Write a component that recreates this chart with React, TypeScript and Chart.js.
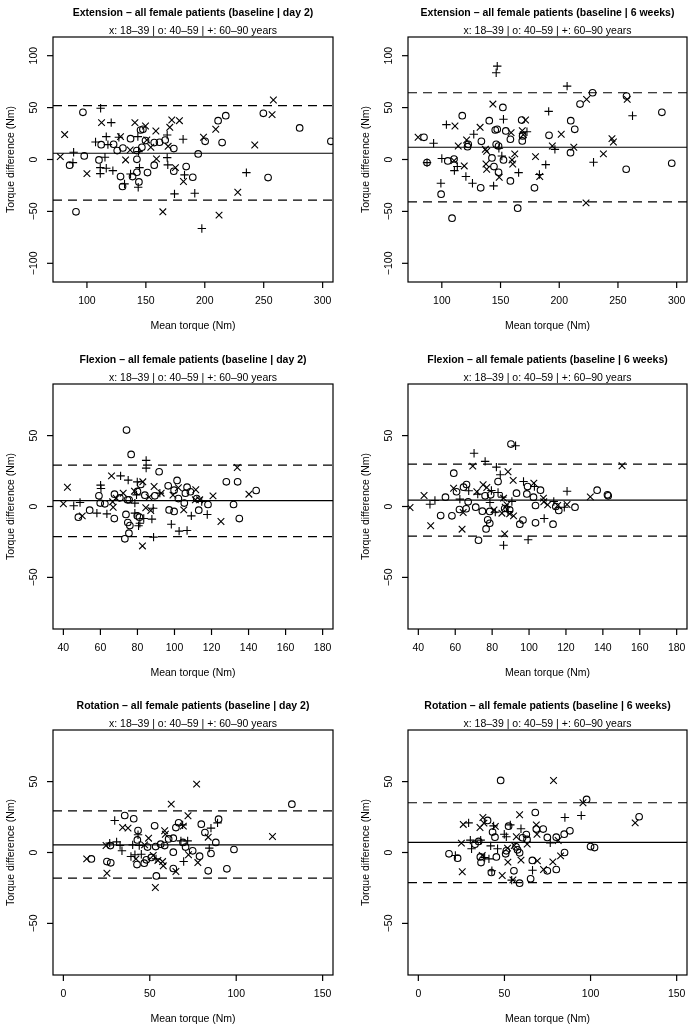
import React, { useEffect, useRef } from "react";
import { Chart, registerables } from "chart.js";

Chart.register(...registerables);

type P = [number, number];

// ---------- labels ----------
const SUBTITLE = "x: 18–39 | o: 40–59 | +: 60–90 years";
const X_TITLE = "Mean torque (Nm)";
const Y_TITLE = "Torque difference (Nm)";
const TITLES = [
  "Extension – all female patients (baseline | day 2)",
  "Extension – all female patients (baseline | 6 weeks)",
  "Flexion – all female patients (baseline | day 2)",
  "Flexion – all female patients (baseline | 6 weeks)",
  "Rotation – all female patients (baseline | day 2)",
  "Rotation – all female patients (baseline | 6 weeks)",
];

// ---------- tick labels ----------
const extXTicks = [100, 150, 200, 250, 300];
const flexXTicks = [40, 60, 80, 100, 120, 140, 160, 180];
const rotXTicks = [0, 50, 100, 150];
const extYTicks = [-100, -50, 0, 50, 100];
const smallYTicks = [-50, 0, 50];

// ---------- limits of agreement: [mean, upper, lower] ----------
const extD2Lines = [6, 51.8, -39.2];
const ext6wLines = [11.8, 64.3, -40.8];
const flexD2Lines = [4.2, 29.2, -21.2];
const flex6wLines = [4.5, 29.9, -20.9];
const rotD2Lines = [5.4, 29.4, -18.1];
const rot6wLines = [7.1, 35.1, -21.2];

// ---------- Extension, day 2 ----------
const extD2Young: P[] = [[258.2,57.3],[257.1,43.2],[112.4,35.5],[140.7,35.5],[149.7,32.3],[172,38],[178.5,37.4],[170.3,31],[209.3,29.1],[81.1,24],[158.5,27.5],[128.5,22],[198.9,21.4],[242.4,14],[150.8,18.8],[168.9,12.7],[136.7,9.2],[154.2,11.8],[77.4,2.8],[132.8,-0.4],[159,0.6],[175.1,-7.8],[100,-13.6],[181.9,-21.2],[228,-31.5],[164.4,-50.4],[212.1,-53.6]];
const extD2Mid: P[] = [[96.6,45.4],[249.7,44.5],[217.8,42.2],[211.3,37.4],[145.5,28.4],[147.5,29.1],[280.5,30.4],[137,20.1],[200.3,17.5],[214.7,16.3],[112.1,14.3],[122.6,14.7],[149.7,18.2],[157.1,16.3],[161.6,16.6],[166.4,18.8],[130.5,11.1],[125.7,8.6],[146.6,11.8],[173.7,10.5],[97.7,3.4],[194.4,5.4],[142.4,8.6],[110.2,-0.4],[142.4,0.2],[85.3,-5.5],[157.1,-5.5],[184.2,-6.8],[173.7,-11.3],[151.4,-12.6],[142.4,-12.3],[189.8,-17.1],[128.5,-16.4],[138.7,-16.4],[144.1,-21.6],[253.7,-17.4],[130.2,-26],[90.7,-50.4],[307,17.5]];
const extD2Old: P[] = [[111.6,49.3],[120.6,35.5],[116.4,22],[127.1,21.4],[143.2,22],[168.1,23.6],[181.6,19.5],[107.3,16.9],[117.8,14.3],[88.7,7],[143.8,7.6],[115.3,2.2],[168.1,1.8],[88.1,-3],[168.6,-5.2],[111.3,-7.8],[116.4,-8.4],[122,-10.7],[144.6,-7.8],[111.3,-13.6],[137,-13.9],[182.8,-14.8],[131.9,-23.5],[235.3,-12.6],[143.5,-26.7],[174.3,-33.1],[191.5,-32.5],[197.5,-66.4]];

// ---------- Extension, 6 weeks ----------
const ext6wYoung: P[] = [[223.3,57.9],[257.9,57.9],[143.5,53.4],[171.3,38],[111.2,32.3],[132.6,31],[159,25.9],[168.5,27.8],[169.4,23.9],[201.7,24.3],[244.9,20.1],[246.1,16.9],[79.8,21.4],[121.1,18.8],[114,13],[194.1,13],[137.1,9.8],[138.2,7.9],[212.4,11.8],[162.1,5.4],[179.8,2.8],[237.6,5.4],[110.4,-1.1],[159.8,-0.4],[119.1,-6.2],[137.6,-4.3],[138.2,-9.4],[160.4,-4.3],[183.4,-16.4],[148.9,-17.1],[222.8,-41.8]];
const ext6wMid: P[] = [[228.4,64.3],[257.3,61.1],[152,50.2],[217.7,53.4],[287.4,45.4],[117.4,42.2],[140.4,37.4],[168,38],[209.8,37.4],[145.5,28.4],[147.2,29.1],[154.5,27.5],[213.2,29.1],[133.7,17.5],[168.8,22.7],[191.3,23.3],[84.8,21.4],[158.4,19.5],[168.5,17.9],[121.9,12.4],[122.5,14.6],[146.3,14.6],[148.3,13],[209.6,6.6],[142.7,1.5],[105.1,-1.4],[110.4,0.5],[152.5,-0.4],[87.4,-3],[295.8,-3.6],[144.4,-6.8],[257,-9.4],[148.3,-12.3],[133.1,-27.3],[158.4,-20.6],[178.9,-27.3],[99.4,-33.4],[164.6,-46.9],[108.7,-56.5]];
const ext6wOld: P[] = [[147.2,89.9],[146.3,83.6],[206.7,70.7],[191,46.4],[262.4,42.2],[152.5,38.7],[103.9,33.6],[172.5,26.8],[127.2,24.3],[93,15.6],[196.3,9.8],[148.6,10.8],[151.1,3.4],[100,0.9],[87.4,-3],[188.5,-4.9],[229.2,-2.7],[113.2,-6.8],[110.7,-10.7],[165.4,-12.6],[183.1,-14.5],[120.5,-16.4],[99.2,-22.9],[126.1,-22.9],[144.1,-25.4]];

// ---------- Flexion, day 2 ----------
const flexD2Young: P[] = [[133.9,27.5],[66,21.6],[82.9,17.4],[42.2,13.6],[89,14.1],[92.8,9.4],[102.1,13.2],[111.5,11.8],[140.2,8.7],[120.8,7.5],[72.3,9.4],[78.4,10.8],[68.5,5.9],[86.3,6.6],[99.2,8],[113.6,4.7],[40,1.9],[66.6,3.3],[111.3,4.7],[50.2,-6.6],[66.9,-0.5],[84.5,-0.9],[87.2,-2.8],[105,-2.4],[125.1,-10.6],[82.7,-27.8]];
const flexD2Mid: P[] = [[74.1,53.9],[76.6,36.7],[91.7,24.5],[128,17.4],[134.1,17.4],[81.8,15.5],[96.6,14.6],[101.4,18.4],[99.8,11.5],[106.8,13.6],[105.9,9.4],[108.6,10.4],[144.1,11.3],[59.2,7.5],[67.6,8.7],[80,10.6],[70.5,6.1],[74.6,4.7],[84,8],[89.4,7.5],[102.1,5.6],[112,5.6],[59.9,2.4],[62.4,1.9],[75.5,4.7],[105.3,2.4],[118.1,1.4],[131.9,1.4],[54.2,-2.6],[48.1,-7.5],[67.5,-8.5],[73.8,-5.6],[79.9,-6.6],[81.1,-7.5],[97.1,-2.4],[99.8,-3.5],[113.1,-2.6],[135,-8.5],[74.8,-11.3],[75.9,-13.4],[75.4,-18.8],[73.2,-22.8]];
const flexD2Old: P[] = [[84.7,32.5],[84.7,27.1],[70.9,21.6],[75,18.6],[79.9,17.4],[60.1,15.1],[60.3,12.7],[79.5,8.2],[92.1,9.4],[114.7,3.5],[45.6,0.5],[49,2.8],[78.6,2.4],[58.1,-4.7],[63.5,-5.2],[78.6,-4.7],[88.5,-1.2],[87.8,-8.9],[83.4,-8.5],[109.1,-6.6],[117.7,-5.6],[80.6,-13.6],[81.3,-11.8],[98.3,-12.5],[102.5,-17.4],[106.8,-16.9],[88.7,-21.6]];

// ---------- Flexion, 6 weeks ----------
const flex6wYoung: P[] = [[69.5,28.5],[150.4,28.7],[88.6,24.5],[91.4,18.4],[102.6,16.5],[75.1,15.3],[77.1,13.4],[59.1,12.9],[71.7,10.4],[133.2,6.8],[43.1,7.8],[86.2,5.9],[107.8,5.9],[108,3.3],[88,1.2],[87.1,-0.5],[35.5,-0.7],[110.1,1.2],[115.5,0.7],[120.6,1.4],[64.3,-4.2],[81,-2.4],[85.3,-4.7],[89.5,-5.2],[91.6,-6.6],[46.7,-13.6],[63.7,-16],[86.8,-19.3]];
const flex6wMid: P[] = [[90.2,44],[59.2,23.5],[83.2,17.6],[66.1,15.5],[64.5,13.6],[99.2,14.1],[106.2,11.5],[60.7,10.4],[76.2,7.5],[79.2,8.2],[93.2,9.4],[98.8,8.9],[102.4,6.6],[136.9,11.5],[142.5,8.2],[142.9,7.5],[54.7,6.6],[67,3.3],[71.1,-0.5],[78.7,-3.5],[86.8,-1.4],[103.5,0.7],[114.5,0],[124.9,-0.5],[116.1,-2.8],[62.3,-2.1],[65.9,-1.6],[74.7,-3.3],[89.5,-2.4],[52.1,-6.4],[58.2,-6.6],[77.6,-9.4],[78.7,-11.8],[96.7,-9.6],[95,-12.5],[103.5,-11.5],[113,-12.5],[76.7,-15.8],[72.6,-23.8]];
const flex6wOld: P[] = [[92.7,42.8],[70.2,37.6],[76.2,31.8],[82.3,27.8],[84.4,22.4],[97,17.6],[102.9,14.1],[79.6,11.3],[67.3,11.1],[72.2,8.7],[83.2,9.9],[120.6,10.8],[49,4.2],[62.5,5.2],[85.5,6.6],[90.7,3.5],[78.8,2.8],[46.3,1.6],[113.4,3.5],[119.1,-0.5],[81.7,-4],[88.6,-3.5],[108.2,-8.5],[99.5,-23.5],[86.2,-27.3]];

// ---------- Rotation, day 2 ----------
const rotD2Young: P[] = [[77.1,48.2],[62.4,34.1],[72.1,25.9],[34.3,17.6],[37.4,17.2],[69.4,18.6],[58.6,15.3],[59,12.9],[83.8,10.8],[121,11.3],[49.3,10.1],[24.7,4.9],[47,5.4],[13.5,-4.5],[42,-4.5],[52,-2.1],[54.7,-5.6],[57.4,-6.4],[57.8,-9.4],[65.1,-13.4],[72.4,-1.6],[77.8,-7.1],[25.2,-14.6],[53.2,-24.7]];
const rotD2Mid: P[] = [[132.2,34.1],[35.5,26.1],[40.7,23.8],[52.8,18.8],[79.8,20],[89.8,23.5],[66.7,20.9],[65.1,17.6],[43.2,15.5],[60.9,9.6],[81.9,14.1],[42.8,8.9],[63.6,10.1],[69.2,7.1],[88.2,7.1],[27.2,4.9],[48.7,3.8],[53.4,4.2],[56.3,5.9],[58.6,4.9],[70.7,3.8],[98.7,2.1],[85.4,-0.7],[74.8,1.2],[63.6,0.2],[78.8,-2.6],[16.2,-4.5],[25.2,-6.4],[27.4,-7.3],[42.6,-8.5],[46.8,-7.5],[48,-5.2],[50.9,-3.5],[94.6,-11.5],[83.8,-12.9],[63.6,-11.3],[53.8,-16.5]];
const rotD2Old: P[] = [[29.7,22.6],[89.2,20.9],[69,19.5],[43.2,12.5],[85.4,17.2],[68,8.2],[71.9,8.2],[26.8,6.6],[30.8,7.5],[32.8,4.9],[33.9,1.2],[40.1,5.4],[43.9,4.9],[84.4,3.1],[39.1,-2.8],[41.4,-1.6],[45.1,-1.2],[53.6,-4.5],[69.6,-6.4]];

// ---------- Rotation, 6 weeks ----------
const rot6wYoung: P[] = [[78.5,50.8],[95.6,35.1],[58.8,26.6],[125.9,20.9],[37.5,24.7],[38.1,20.7],[26.1,19.8],[35.8,17.6],[44.7,18.4],[68.5,19.5],[56.9,11.1],[63.2,5.9],[68.9,12.9],[81.2,8.5],[25,6.6],[51.8,3.1],[55.7,4.9],[37.1,-2.1],[82.6,-2.4],[52,-6.8],[59.6,-5.4],[69.1,-5.9],[78.1,-6.6],[72.7,-12],[25.5,-13.6],[48.7,-16.2],[54.9,-19.3]];
const rot6wMid: P[] = [[47.8,50.8],[97.7,37.4],[67.9,28.2],[128.2,25.2],[40.2,22.6],[52.4,18.6],[68.5,16.5],[72.5,16.5],[43.1,14.4],[44.5,10.8],[62.7,12.7],[60.5,10.4],[63.1,9.2],[74.9,10.6],[80.1,10.8],[84.7,12.9],[88,15.3],[32.9,5.9],[35,7.8],[51.1,1.2],[56.7,4],[58.8,-0.2],[57.6,1.9],[100,4.2],[102.3,3.5],[17.8,-0.9],[22.8,-4],[36,-3.1],[36.4,-7.1],[45.3,-3.1],[50.7,-0.9],[84.9,0],[66.2,-5.6],[74.9,-12.9],[80.1,-12],[42.4,-14.1],[55.5,-12.9],[58.8,-21.6],[65.2,-18.6]];
const rot6wOld: P[] = [[85.1,24.7],[94.6,26.1],[29.2,20.9],[43.7,18.8],[53.4,19.5],[59.6,16.7],[49.9,12.9],[51.1,11.1],[76.6,6.8],[30.2,8.7],[30.9,2.6],[36.2,8.7],[42,4.7],[46,2.6],[21.5,-2.1],[38.5,-3.5],[41,-4.5],[66.3,-12.5],[42.7,-12.9],[54.2,-19.5]];

// ---------- panel assembly ----------
type Panel = {
  title: string;
  young: P[]; mid: P[]; old: P[];
  lines: number[];
  xr: [number, number]; yr: [number, number];
  xTicks: number[]; yTicks: number[];
  col: number; row: number;
};

const EXT_X: [number, number] = [71.2, 308.8];
const FLEX_X: [number, number] = [34.4, 185.6];
const ROT_X: [number, number] = [-6, 156];
const EXT_Y: [number, number] = [-118, 118];
const SMALL_Y: [number, number] = [-86.4, 86.4];

const PANELS: Panel[] = [
  { title: TITLES[0], young: extD2Young, mid: extD2Mid, old: extD2Old, lines: extD2Lines, xr: EXT_X, yr: EXT_Y, xTicks: extXTicks, yTicks: extYTicks, col: 0, row: 0 },
  { title: TITLES[1], young: ext6wYoung, mid: ext6wMid, old: ext6wOld, lines: ext6wLines, xr: EXT_X, yr: EXT_Y, xTicks: extXTicks, yTicks: extYTicks, col: 1, row: 0 },
  { title: TITLES[2], young: flexD2Young, mid: flexD2Mid, old: flexD2Old, lines: flexD2Lines, xr: FLEX_X, yr: SMALL_Y, xTicks: flexXTicks, yTicks: smallYTicks, col: 0, row: 1 },
  { title: TITLES[3], young: flex6wYoung, mid: flex6wMid, old: flex6wOld, lines: flex6wLines, xr: FLEX_X, yr: SMALL_Y, xTicks: flexXTicks, yTicks: smallYTicks, col: 1, row: 1 },
  { title: TITLES[4], young: rotD2Young, mid: rotD2Mid, old: rotD2Old, lines: rotD2Lines, xr: ROT_X, yr: SMALL_Y, xTicks: rotXTicks, yTicks: smallYTicks, col: 0, row: 2 },
  { title: TITLES[5], young: rot6wYoung, mid: rot6wMid, old: rot6wOld, lines: rot6wLines, xr: ROT_X, yr: SMALL_Y, xTicks: rotXTicks, yTicks: smallYTicks, col: 1, row: 2 },
];

// layout (pixels)
const CW = 350;
const CH = 343;
const ROW_PAD = [
  { top: 37, bottom: 61 },
  { top: 41, bottom: 57 },
  { top: 44, bottom: 54 },
];
const COL_PAD = [
  { left: 53, right: 17 },
  { left: 58, right: 13 },
];

const FONT = "'Liberation Sans', Arial, Helvetica, sans-serif";
const fmt = (v: number) => (v < 0 ? "\u2212" + Math.abs(v) : String(v));

const rFrame = {
  id: "rFrame",
  afterDraw(chart: any, _args: any, opts: any) {
    const { ctx, chartArea: a, scales } = chart;
    const xs = scales.x;
    const ys = scales.y;
    ctx.save();
    ctx.strokeStyle = "#000";
    ctx.fillStyle = "#000";
    ctx.lineWidth = 1.2;
    ctx.strokeRect(a.left, a.top, a.right - a.left, a.bottom - a.top);
    ctx.font = `10.5px ${FONT}`;
    ctx.textAlign = "center";
    ctx.textBaseline = "middle";
    for (const t of opts.xTicks as number[]) {
      const px = xs.getPixelForValue(t);
      ctx.beginPath();
      ctx.moveTo(px, a.bottom);
      ctx.lineTo(px, a.bottom + 6);
      ctx.stroke();
      ctx.fillText(fmt(t), px, a.bottom + 19.5);
    }
    for (const t of opts.yTicks as number[]) {
      const py = ys.getPixelForValue(t);
      ctx.beginPath();
      ctx.moveTo(a.left, py);
      ctx.lineTo(a.left - 6, py);
      ctx.stroke();
      ctx.save();
      ctx.translate(a.left - 19, py);
      ctx.rotate(-Math.PI / 2);
      ctx.fillText(fmt(t), 0, 0);
      ctx.restore();
    }
    const cx = (a.left + a.right) / 2;
    ctx.fillText(X_TITLE, cx, a.bottom + 44.5);
    ctx.save();
    ctx.translate(a.left - 42, (a.top + a.bottom) / 2);
    ctx.rotate(-Math.PI / 2);
    ctx.fillText(Y_TITLE, 0, 0);
    ctx.restore();
    ctx.fillText(SUBTITLE, cx, a.top - 6);
    ctx.font = `bold 10.5px ${FONT}`;
    ctx.fillText(opts.title, cx, a.top - 24);
    ctx.restore();
  },
};

function PanelChart({ p }: { p: Panel }) {
  const ref = useRef<HTMLCanvasElement | null>(null);
  useEffect(() => {
    if (!ref.current) return;
    const toPts = (arr: P[]) => arr.map(([x, y]) => ({ x, y }));
    const hLine = (v: number) => [
      { x: p.xr[0], y: v },
      { x: p.xr[1], y: v },
    ];
    const pointBase = {
      type: "scatter" as const,
      borderColor: "#000",
      backgroundColor: "rgba(0,0,0,0)",
      borderWidth: 1.1,
      clip: 0,
    };
    const lineBase = {
      type: "line" as const,
      borderColor: "#000",
      borderWidth: 1.2,
      pointRadius: 0,
      fill: false,
      showLine: true,
      clip: 0,
    };
    const chart = new Chart(ref.current, {
      type: "scatter",
      data: {
        datasets: [
          { ...lineBase, label: "mean", data: hLine(p.lines[0]) },
          { ...lineBase, label: "upper", data: hLine(p.lines[1]), borderDash: [9, 6] },
          { ...lineBase, label: "lower", data: hLine(p.lines[2]), borderDash: [9, 6] },
          { ...pointBase, label: "18–39", data: toPts(p.young), pointStyle: "crossRot", pointRadius: 4.7 },
          { ...pointBase, label: "40–59", data: toPts(p.mid), pointStyle: "circle", pointRadius: 3.3 },
          { ...pointBase, label: "60–90", data: toPts(p.old), pointStyle: "cross", pointRadius: 4.2 },
        ] as any,
      },
      options: {
        animation: false,
        responsive: false,
        events: [],
        layout: {
          padding: {
            left: COL_PAD[p.col].left,
            right: COL_PAD[p.col].right,
            top: ROW_PAD[p.row].top,
            bottom: ROW_PAD[p.row].bottom,
          },
        },
        scales: {
          x: { type: "linear", min: p.xr[0], max: p.xr[1], display: false },
          y: { type: "linear", min: p.yr[0], max: p.yr[1], display: false },
        },
        plugins: {
          legend: { display: false },
          tooltip: { enabled: false },
          rFrame: {
            title: p.title,
            xTicks: p.xTicks,
            yTicks: p.yTicks,
          },
        } as any,
      },
      plugins: [rFrame as any],
    });
    return () => chart.destroy();
  }, [p]);
  return (
    <canvas
      ref={ref}
      width={CW}
      height={CH}
      style={{
        position: "absolute",
        left: p.col * CW,
        top: p.row * CH,
        width: CW,
        height: CH,
        display: "block",
      }}
    />
  );
}

export default function App() {
  return (
    <div
      style={{
        position: "absolute",
        left: 0,
        top: 0,
        width: 700,
        height: 1029,
        background: "#fff",
      }}
    >
      {PANELS.map((p, i) => (
        <PanelChart key={i} p={p} />
      ))}
    </div>
  );
}
